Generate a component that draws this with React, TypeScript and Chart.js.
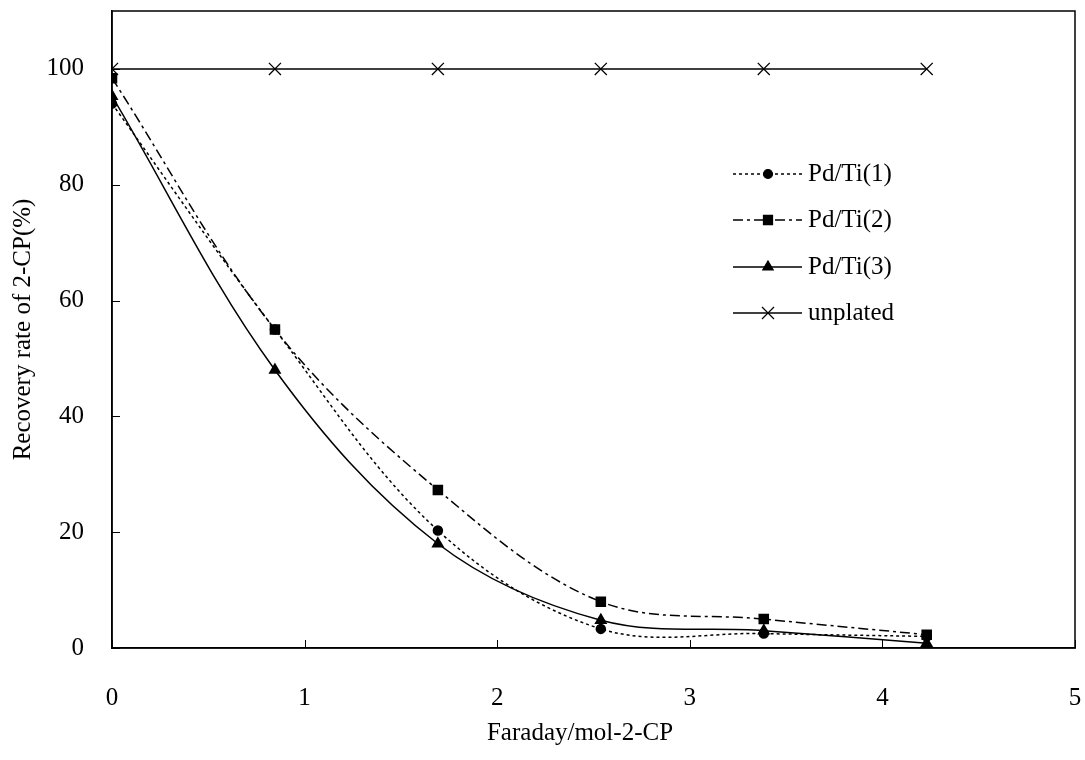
import React, { useEffect, useRef } from "react";
import { Chart, registerables } from "chart.js";
import { drawPoint } from "chart.js/helpers";

Chart.register(...registerables);

const xValues = [0, 0.846, 1.692, 2.538, 3.384, 4.23];
const pdTi1 = [94, 55, 20.3, 3.3, 2.5, 2];
const pdTi2 = [98.4, 55, 27.3, 8, 5, 2.3];
const pdTi3 = [95.3, 48, 18, 4.8, 3, 0.8];
const unplated = [100, 100, 100, 100, 100, 100];
const seriesNames = ["Pd/Ti(1)", "Pd/Ti(2)", "Pd/Ti(3)", "unplated"];
const yTickValues = [0, 20, 40, 60, 80, 100];
const xTickValues = [0, 1, 2, 3, 4, 5];
const xTitle = "Faraday/mol-2-CP";
const yTitle = "Recovery rate of 2-CP(%)";

const FONT = "'Liberation Serif', 'Times New Roman', serif";

const toPoints = (ys: number[]) => xValues.map((x, i) => ({ x, y: ys[i] }));

const framePlugin = {
  id: "frameAndLegend",
  afterDraw(chart: any) {
    const { ctx, chartArea } = chart;
    const { left, right, top, bottom } = chartArea;
    ctx.save();
    ctx.strokeStyle = "#000";
    ctx.lineWidth = 1.5;
    ctx.setLineDash([]);
    ctx.strokeRect(left, top, right - left, bottom - top);
    ctx.lineWidth = 1;
    const xs = chart.scales.x;
    const ys = chart.scales.y;
    xTickValues.forEach((v) => {
      const px = Math.round(xs.getPixelForValue(v)) + 0.5;
      ctx.beginPath();
      ctx.moveTo(px, bottom);
      ctx.lineTo(px, bottom - 8);
      ctx.stroke();
    });
    yTickValues.forEach((v) => {
      const py = Math.round(ys.getPixelForValue(v)) + 0.5;
      ctx.beginPath();
      ctx.moveTo(left, py);
      ctx.lineTo(left + 8, py);
      ctx.stroke();
    });
    // x-axis title
    ctx.fillStyle = "#000";
    ctx.font = `25px ${FONT}`;
    ctx.textAlign = "center";
    ctx.textBaseline = "middle";
    ctx.fillText(xTitle, 580, 733);
    // legend
    const rowsY = [174, 220, 267, 313];
    const lineX0 = 733;
    const lineX1 = 802;
    const markX = 768;
    const textX = 808;
    chart.data.datasets.forEach((ds: any, i: number) => {
      const y = rowsY[i];
      ctx.strokeStyle = "#000";
      ctx.fillStyle = "#000";
      ctx.lineWidth = ds.borderWidth;
      ctx.setLineDash(ds.borderDash || []);
      ctx.beginPath();
      ctx.moveTo(lineX0, y);
      ctx.lineTo(lineX1, y);
      ctx.stroke();
      ctx.setLineDash([]);
      ctx.lineWidth = 1.2;
      drawPoint(ctx, { pointStyle: ds.pointStyle, radius: ds.pointRadius, rotation: 0, borderWidth: 1.2 } as any, markX, y);
      ctx.font = `25px ${FONT}`;
      ctx.textBaseline = "middle";
      ctx.textAlign = "left";
      ctx.fillText(ds.label, textX, y);
    });
    ctx.restore();
  },
};

export default function App() {
  const canvasRef = useRef<HTMLCanvasElement | null>(null);

  useEffect(() => {
    const canvas = canvasRef.current;
    if (!canvas) return;
    const common = {
      borderColor: "#000",
      backgroundColor: "#000",
      pointBorderColor: "#000",
      pointBackgroundColor: "#000",
      borderWidth: 1.5,
      fill: false,
      tension: 0.35,
    };
    const chart = new Chart(canvas, {
      type: "line",
      data: {
        datasets: [
          { ...common, label: seriesNames[0], data: toPoints(pdTi1), borderDash: [3, 3], pointStyle: "circle", pointRadius: 4.5 },
          { ...common, label: seriesNames[1], data: toPoints(pdTi2), borderDash: [10, 4, 3, 4], pointStyle: "rect", pointRadius: 6.4 },
          { ...common, label: seriesNames[2], data: toPoints(pdTi3), borderDash: [], pointStyle: "triangle", pointRadius: 6 },
          { ...common, label: seriesNames[3], data: toPoints(unplated), borderDash: [], pointStyle: "crossRot", pointRadius: 8.5, pointBorderWidth: 1.3 },
        ] as any,
      },
      options: {
        responsive: false,
        animation: false,
        layout: { padding: { left: 0, top: 11, right: 10, bottom: 0 } },
        plugins: {
          legend: { display: false },
          tooltip: { enabled: false },
        },
        scales: {
          x: {
            type: "linear",
            min: 0,
            max: 5,
            grid: { display: false },
            border: { display: true, color: "#000", width: 1.5 },
            ticks: { stepSize: 1, color: "#000", font: { family: FONT, size: 25 }, padding: 27, maxRotation: 0 },
            title: { display: false, text: xTitle },
            afterFit: (scale: any) => {
              scale.height = 112;
              scale.paddingLeft = 0;
              scale.paddingRight = 0;
            },
          },
          y: {
            type: "linear",
            min: 0,
            max: 110,
            grid: { display: false },
            border: { display: true, color: "#000", width: 1.5 },
            ticks: { stepSize: 20, color: "#000", font: { family: FONT, size: 25 }, padding: 20 },
            afterBuildTicks: (scale: any) => {
              scale.ticks = yTickValues.map((v) => ({ value: v }));
            },
            title: { display: true, text: yTitle, color: "#000", font: { family: FONT, size: 25 }, padding: { top: 8, bottom: 0 } },
            afterFit: (scale: any) => {
              scale.width = 112;
              scale.paddingTop = 0;
              scale.paddingBottom = 0;
            },
          },
        },
      } as any,
      plugins: [framePlugin],
    });
    return () => chart.destroy();
  }, []);

  return (
    <div style={{ position: "fixed", left: 0, top: 0, width: 1085, height: 760, background: "#fff" }}>
      <canvas ref={canvasRef} width={1085} height={760} style={{ display: "block" }} />
    </div>
  );
}
